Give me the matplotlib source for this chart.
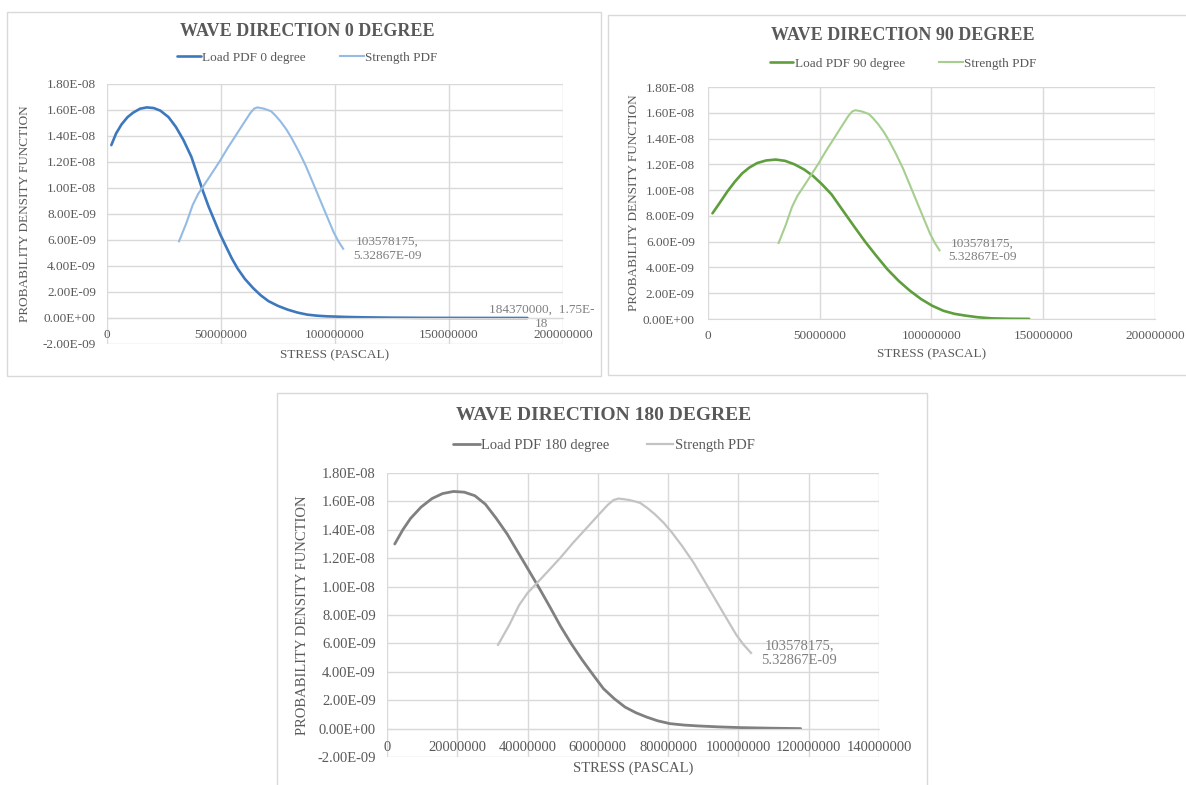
import matplotlib
matplotlib.use("Agg")
import matplotlib.pyplot as plt
from matplotlib.ticker import MultipleLocator, FuncFormatter
from matplotlib.patches import Rectangle

plt.rcParams['font.family'] = ['Liberation Serif', 'DejaVu Serif']

# ---------------- data ----------------
strength_x = [31.6e6, 34.8e6, 37.6e6, 40.0e6, 42.1e6, 45.5e6, 49.4e6, 53.0e6, 56.7e6,
              60.0e6, 62.8e6, 64.5e6, 65.9e6, 67.5e6, 68.9e6, 70.5e6, 72.0e6, 74.0e6,
              76.2e6, 78.7e6, 81.1e6, 84.0e6, 87.2e6, 90.2e6, 93.3e6, 96.4e6, 99.4e6,
              101.5e6, 103578175]
strength_y = [5.9e-9, 7.3e-9, 8.7e-9, 9.55e-9, 10.1e-9, 11.0e-9, 12.05e-9, 13.1e-9, 14.1e-9,
              15.0e-9, 15.75e-9, 16.1e-9, 16.2e-9, 16.15e-9, 16.1e-9, 16.0e-9, 15.9e-9, 15.55e-9,
              15.1e-9, 14.5e-9, 13.8e-9, 12.85e-9, 11.7e-9, 10.45e-9, 9.15e-9, 7.85e-9, 6.6e-9,
              5.9e-9, 5.32867e-9]

load0_x = [1.9e6, 4.0e6, 6.4e6, 9.0e6, 11.5e6, 14.5e6, 17.5e6, 20.5e6, 23.4e6, 27.0e6,
           30.2e6, 33.5e6, 37.0e6, 39.5e6, 42.0e6, 44.5e6, 47.1e6, 49.6e6, 52.2e6, 54.7e6,
           57.3e6, 60.5e6, 64.1e6, 67.4e6, 70.8e6, 75.0e6, 79.3e6, 83.5e6, 87.8e6, 92.0e6,
           96.3e6, 105e6, 113e6, 125e6, 138.6e6, 160e6, 184370000]
load0_y = [13.3e-9, 14.2e-9, 14.9e-9, 15.45e-9, 15.8e-9, 16.1e-9, 16.2e-9, 16.15e-9, 15.95e-9, 15.45e-9,
           14.7e-9, 13.7e-9, 12.4e-9, 11.1e-9, 9.8e-9, 8.6e-9, 7.5e-9, 6.45e-9, 5.5e-9, 4.6e-9,
           3.8e-9, 3.0e-9, 2.3e-9, 1.75e-9, 1.3e-9, 0.93e-9, 0.64e-9, 0.42e-9, 0.26e-9, 0.18e-9,
           0.13e-9, 0.08e-9, 0.05e-9, 0.025e-9, 0.01e-9, 0.003e-9, 1.75e-18]

load90_x = [2.0e6, 5.0e6, 8.7e6, 12.0e6, 15.3e6, 18.5e6, 22.0e6, 26.0e6, 30.3e6, 34.5e6,
            38.7e6, 43.0e6, 47.0e6, 51.0e6, 55.3e6, 60.0e6, 65.3e6, 70.3e6, 75.3e6, 80.3e6,
            85.3e6, 90.3e6, 95.3e6, 100.3e6, 105.3e6, 110.3e6, 115.3e6, 121e6, 127e6, 135e6,
            143.7e6]
load90_y = [8.2e-9, 8.95e-9, 9.9e-9, 10.65e-9, 11.3e-9, 11.75e-9, 12.1e-9, 12.3e-9, 12.37e-9, 12.27e-9,
            12.0e-9, 11.6e-9, 11.1e-9, 10.45e-9, 9.66e-9, 8.5e-9, 7.2e-9, 6.0e-9, 4.9e-9, 3.85e-9,
            2.96e-9, 2.2e-9, 1.55e-9, 1.03e-9, 0.64e-9, 0.4e-9, 0.26e-9, 0.13e-9, 0.05e-9, 0.02e-9,
            0.01e-9]

load180_x = [2.2e6, 4.5e6, 6.7e6, 9.7e6, 12.8e6, 15.8e6, 18.9e6, 22.0e6, 25.0e6, 28.0e6,
             31.1e6, 34.2e6, 37.2e6, 40.2e6, 43.3e6, 46.4e6, 49.4e6, 52.5e6, 55.5e6, 58.6e6,
             61.6e6, 64.7e6, 67.7e6, 70.8e6, 73.8e6, 77.0e6, 80.5e6, 84.5e6, 88.4e6, 94.5e6,
             100.6e6, 109e6, 117.7e6]
load180_y = [13.0e-9, 14.0e-9, 14.8e-9, 15.6e-9, 16.2e-9, 16.55e-9, 16.7e-9, 16.65e-9, 16.4e-9, 15.8e-9,
             14.8e-9, 13.7e-9, 12.45e-9, 11.2e-9, 9.9e-9, 8.55e-9, 7.2e-9, 5.95e-9, 4.85e-9, 3.8e-9,
             2.81e-9, 2.1e-9, 1.52e-9, 1.12e-9, 0.82e-9, 0.55e-9, 0.35e-9, 0.25e-9, 0.19e-9, 0.12e-9,
             0.07e-9, 0.03e-9, 0.0]

titles = ["WAVE DIRECTION 0 DEGREE", "WAVE DIRECTION 90 DEGREE", "WAVE DIRECTION 180 DEGREE"]
load_labels = ["Load PDF 0 degree", "Load PDF 90 degree", "Load PDF 180 degree"]
strength_label = "Strength PDF"
x_title = "STRESS (PASCAL)"
y_title = "PROBABILITY DENSITY FUNCTION"
end_label_strength = "103578175,\n5.32867E-09"
end_label_load0 = "184370000,  1.75E-\n18"

# ---------------- layout ----------------
W, H = 1186, 785
fig = plt.figure(figsize=(W / 100, H / 100), dpi=100)

GRID = '#D9D9D9'
TXT = '#595959'
LBL = '#7F7F7F'


def add_axes_px(l, t, r, b):
    return fig.add_axes([l / W, 1 - b / H, (r - l) / W, (b - t) / H])


def border_px(l, t, r, b):
    fig.patches.append(Rectangle((l / W, 1 - b / H), (r - l) / W, (b - t) / H,
                                 transform=fig.transFigure, fill=False,
                                 edgecolor=GRID, lw=1.0, zorder=0))


def setup(ax, xmax, xstep, ymin, fs, xpad, ypad):
    ax.set_xlim(0, xmax)
    ax.set_ylim(ymin, 1.8e-8)
    ax.xaxis.set_major_locator(MultipleLocator(xstep))
    ax.yaxis.set_major_locator(MultipleLocator(2e-9))
    ax.xaxis.set_major_formatter(FuncFormatter(lambda v, p: f"{int(round(v))}"))
    ax.yaxis.set_major_formatter(FuncFormatter(lambda v, p: f"{v:.2E}"))
    ax.grid(True, color=GRID, lw=1.0)
    ax.set_axisbelow(True)
    for s in ['top', 'right', 'left']:
        ax.spines[s].set_visible(False)
    ax.spines['bottom'].set_position(('data', 0))
    ax.spines['bottom'].set_color(GRID)
    ax.tick_params(length=0, colors=TXT, labelsize=fs)
    ax.tick_params(axis='x', pad=xpad)
    ax.tick_params(axis='y', pad=ypad)
    ax.patch.set_alpha(0)


def labels(ax, fs, ylx, xly):
    ax.set_xlabel(x_title, fontsize=fs, color=TXT)
    ax.xaxis.set_label_coords(0.5, xly)
    ax.xaxis.label.set_va('center')
    ax.set_ylabel(y_title, fontsize=fs, color=TXT)
    ax.yaxis.set_label_coords(ylx, 0.5)
    ax.yaxis.label.set_va('center')


def title_legend(ax, title, cx, ty, ly, fs_t, fs_l):
    fig.text(cx / W, 1 - ty / H, title, ha='center', va='center',
             fontsize=fs_t, fontweight='bold', color=TXT)
    ax.legend(loc='center', bbox_to_anchor=(cx / W, 1 - ly / H),
              bbox_transform=fig.transFigure, ncol=2, frameon=False,
              fontsize=fs_l, labelcolor=TXT, handlelength=1.8,
              handletextpad=0.1, columnspacing=2.6)


# ---- panel 1 ----
border_px(7, 12, 601, 376)
ax1 = add_axes_px(107, 84, 563, 344)
setup(ax1, 2e8, 5e7, -2e-9, 9.5, 8, 8)
ax1.plot(load0_x, load0_y, color='#3D78BE', lw=1.9, label=load_labels[0],
         solid_capstyle='round', solid_joinstyle='round')
ax1.plot(strength_x, strength_y, color='#94BBE3', lw=1.5, label=strength_label,
         solid_joinstyle='round')
labels(ax1, 9.5, -0.18, -0.042)
title_legend(ax1, titles[0], 307, 31, 58, 13, 9.5)
ax1.annotate(end_label_strength, xy=(strength_x[-1], strength_y[-1]), xytext=(44, 0),
             textcoords='offset pixels', ha='center', va='center',
             fontsize=9.5, color=LBL, multialignment='center')
ax1.annotate(end_label_load0, xy=(load0_x[-1], load0_y[-1]), xytext=(14, 1),
             textcoords='offset pixels', ha='center', va='center',
             fontsize=9.5, color=LBL, multialignment='center')

# ---- panel 2 ----
border_px(608, 15, 1195, 375)
ax2 = add_axes_px(708, 87, 1155, 319)
setup(ax2, 2e8, 5e7, 0, 9.5, 8, 9.5)
ax2.plot(load90_x, load90_y, color='#5E9E3C', lw=1.9, label=load_labels[1],
         solid_capstyle='round', solid_joinstyle='round')
ax2.plot(strength_x, strength_y, color='#A6CF8F', lw=1.5, label=strength_label,
         solid_joinstyle='round')
labels(ax2, 9.5, -0.165, -0.15)
title_legend(ax2, titles[1], 903, 36, 64, 13, 9.5)
ax2.annotate(end_label_strength, xy=(strength_x[-1], strength_y[-1]), xytext=(43, 0),
             textcoords='offset pixels', ha='center', va='center',
             fontsize=9.5, color=LBL, multialignment='center')

# ---- panel 3 ----
border_px(277, 393, 927, 800)
ax3 = add_axes_px(387, 473, 879, 757)
setup(ax3, 1.4e8, 2e7, -2e-9, 10.5, 9, 8)
ax3.plot(load180_x, load180_y, color='#808080', lw=2.0, label=load_labels[2],
         solid_capstyle='round', solid_joinstyle='round')
ax3.plot(strength_x, strength_y, color='#C3C3C3', lw=1.6, label=strength_label,
         solid_joinstyle='round')
labels(ax3, 10.5, -0.171, -0.04)
title_legend(ax3, titles[2], 604, 415, 445, 14, 10.5)
ax3.annotate(end_label_strength, xy=(strength_x[-1], strength_y[-1]), xytext=(48, 0),
             textcoords='offset pixels', ha='center', va='center',
             fontsize=10.5, color=LBL, multialignment='center')

fig.savefig('out.png', dpi=100)
